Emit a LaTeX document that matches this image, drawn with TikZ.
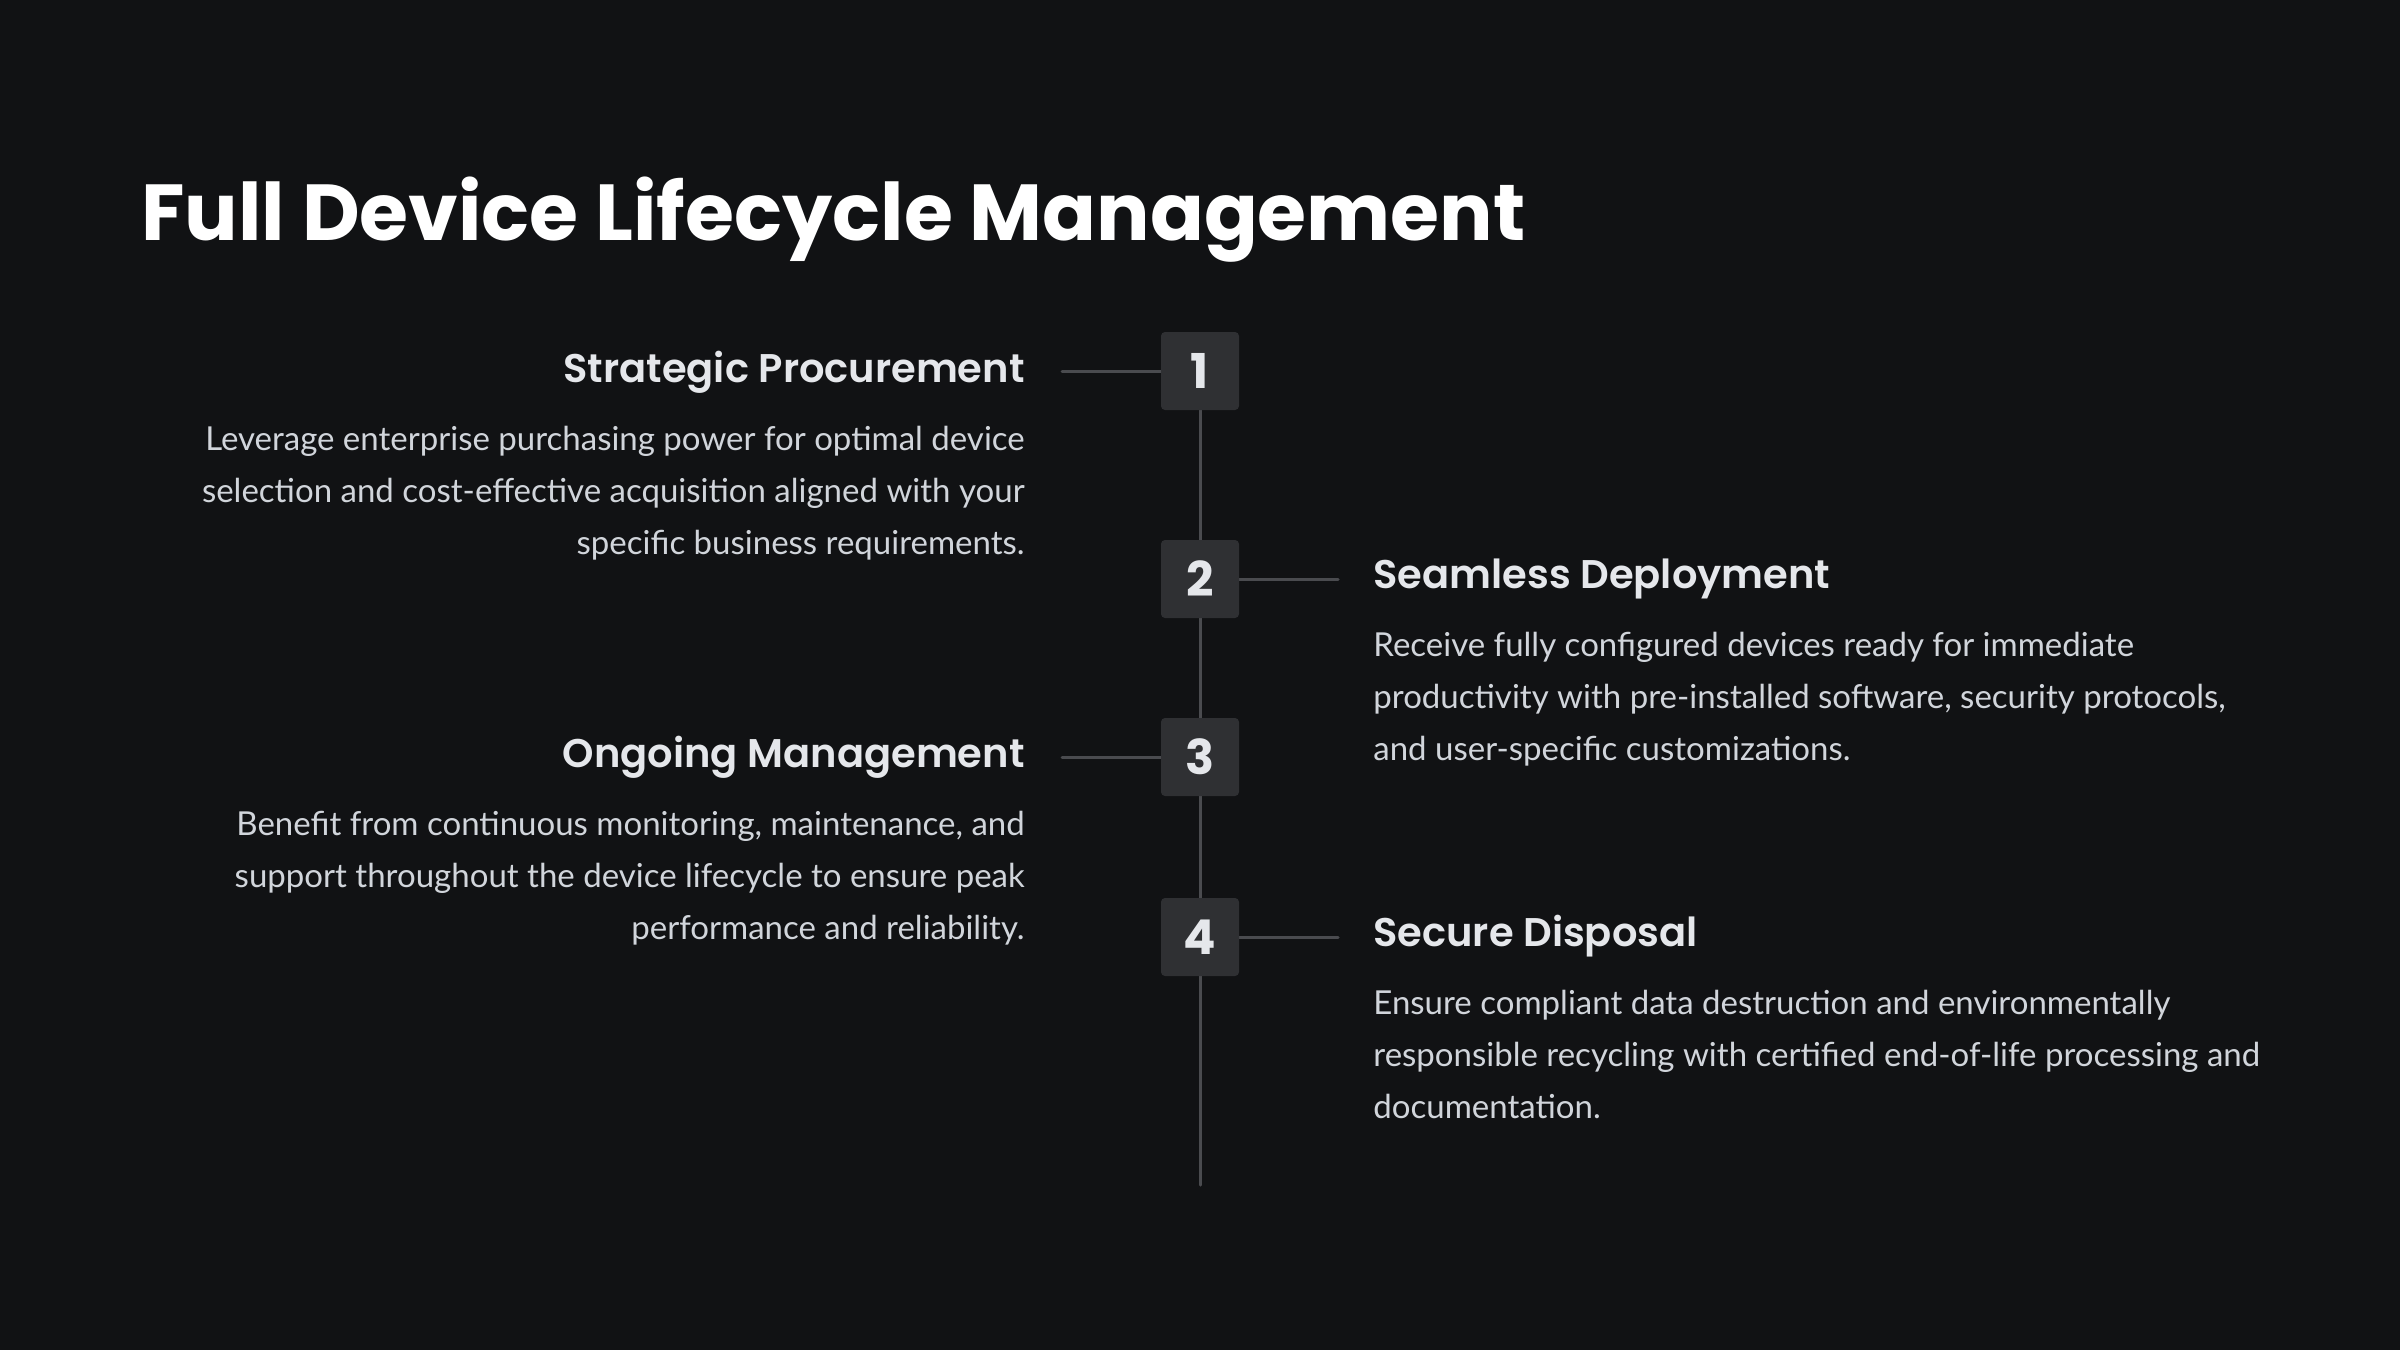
\documentclass[tikz,border=0pt]{standalone}
\usepackage{fontspec}
\setmainfont{Lato}
\newfontfamily\headfont{Poppins}[UprightFont=* SemiBold, BoldFont=* Bold]
\usetikzlibrary{positioning,backgrounds}

\definecolor{bgdark}{HTML}{111214}
\definecolor{boxgray}{HTML}{2F3033}
\definecolor{linegray}{HTML}{4A4B4F}
\definecolor{headgray}{HTML}{E5E7EB}
\definecolor{bodygray}{HTML}{D1D5DB}

\tikzset{
  stepnum/.style={fill=boxgray, rounded corners=2pt, minimum size=39pt, inner sep=0pt,
    text=headgray, font=\headfont\bfseries\fontsize{24}{24}\selectfont},
  stephead/.style={text=headgray, inner sep=0pt, font=\headfont\fontsize{20}{24}\selectfont},
  stepbody/.style={text=bodygray, inner sep=0pt, font=\fontsize{16.5}{26}\selectfont},
  rail/.style={draw=linegray, line width=1.5pt, line cap=round},
}

\begin{document}
\begin{tikzpicture}[x=0.5pt, y=-0.5pt]
  % title
  \node[anchor=base west, inner sep=0pt, text=white,
    font=\headfont\bfseries\fontsize{39.7}{44}\selectfont] (title) at (141,240)
    {Full Device Lifecycle Management};
  % numbered steps
  \foreach \n/\y in {1/371,2/579,3/757,4/937}
    \node[stepnum] (s\n) at (1200,\y) {\n};
  % headings
  \node[stephead, anchor=base east] (h1) at (1025,382) {Strategic Procurement};
  \node[stephead, anchor=base west] (h2) at (1373,588) {Seamless Deployment};
  \node[stephead, anchor=base east] (h3) at (1025,767) {Ongoing Management};
  \node[stephead, anchor=base west] (h4) at (1373,946) {Secure Disposal};
  % texts
  \node[stepbody, anchor=north east, align=right] (t1) at (1025,426)
    {Leverage enterprise purchasing power for optimal device\\
     selection and cost-effective acquisition aligned with your\\
     specific business requirements.};
  \node[stepbody, anchor=north west, align=left] (t2) at (1373,632)
    {Receive fully configured devices ready for immediate\\
     productivity with pre-installed software, security protocols,\\
     and user-specific customizations.};
  \node[stepbody, anchor=north east, align=right] (t3) at (1025,811)
    {Benefit from continuous monitoring, maintenance, and\\
     support throughout the device lifecycle to ensure peak\\
     performance and reliability.};
  \node[stepbody, anchor=north west, align=left] (t4) at (1373,990)
    {Ensure compliant data destruction and environmentally\\
     responsible recycling with certified end-of-life processing and\\
     documentation.};
  % rail and connectors
  \coordinate (railend) at (1200,1185);
  \coordinate (c1) at (1062,371);
  \coordinate (c2) at (1338,579);
  \coordinate (c3) at (1062,757);
  \coordinate (c4) at (1338,937);
  \begin{scope}[on background layer]
    \fill[bgdark] (0,0) rectangle (2400,1350);
    \foreach \a/\b in {1/2,2/3,3/4}
      \draw[rail] (s\a.south) -- (s\b.north);
    \draw[rail] (s4.south) -- (railend);
    \draw[rail] (c1) -- (s1.west);
    \draw[rail] (s2.east) -- (c2);
    \draw[rail] (c3) -- (s3.west);
    \draw[rail] (s4.east) -- (c4);
  \end{scope}
\end{tikzpicture}
\end{document}
